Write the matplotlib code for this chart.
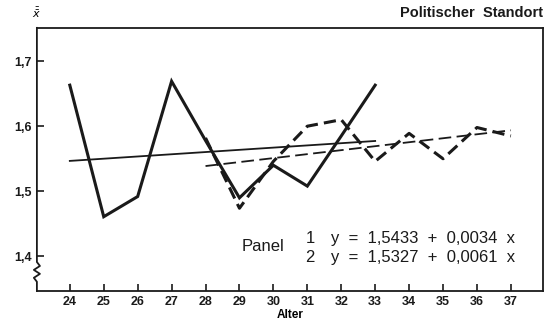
import matplotlib.pyplot as plt
import numpy as np

plt.rcParams['font.family'] = ['Liberation Sans', 'DejaVu Sans']

# panel 1 (solid), ages 24-33
age1 = [24, 25, 26, 27, 28, 29, 30, 31, 32, 33]
mean1 = [1.663, 1.461, 1.492, 1.669, 1.578, 1.490, 1.540, 1.508, 1.585, 1.663]
# panel 2 (dashed), ages 28-37
age2 = [28, 29, 30, 31, 32, 33, 34, 35, 36, 37]
mean2 = [1.582, 1.474, 1.546, 1.600, 1.610, 1.546, 1.589, 1.550, 1.598, 1.585]

# regression lines, x = 1..10 within each panel
a1, b1 = 1.5433, 0.0034
a2, b2 = 1.5327, 0.0061
xi = np.arange(1, 11)

fig = plt.figure(figsize=(5.59, 3.24), dpi=100)
ax = fig.add_axes([0.066, 0.102, 0.905, 0.812])

ax.plot(age1, mean1, color='#1a1a1a', lw=2.2, solid_joinstyle='miter')
ax.plot(age2, mean2, color='#1a1a1a', lw=2.2, dashes=(4, 2))
ax.plot(age1, a1 + b1 * xi, color='#1a1a1a', lw=1.3)
ax.plot(age2, a2 + b2 * xi, color='#1a1a1a', lw=1.3, dashes=(7, 3))

ax.set_xlim(23.03, 37.94)
ax.set_ylim(1.347, 1.751)
ax.set_xticks(range(24, 38))
ax.set_yticks([1.4, 1.5, 1.6, 1.7])
ax.set_yticklabels(['1,4', '1,5', '1,6', '1,7'])
ax.tick_params(direction='in', length=5, width=1.2, labelsize=9, colors='#1a1a1a')
for lab in ax.get_xticklabels() + ax.get_yticklabels():
    lab.set_fontweight('bold')
ax.set_xlabel('Alter', fontsize=8.5, fontweight='bold', labelpad=1)

for s in ['top', 'right', 'bottom']:
    ax.spines[s].set_linewidth(1.3)
    ax.spines[s].set_color('#1a1a1a')
ax.spines['left'].set_visible(False)
# left axis with break squiggle near the bottom
dx = 0.006
ax.plot([0, 0, dx, -dx, dx, -dx, 0, 0],
        [1, 0.11, 0.095, 0.08, 0.065, 0.05, 0.035, 0],
        transform=ax.transAxes, clip_on=False, color='#1a1a1a', lw=1.3)

ax.text(0, 1.03, r'$\bar{\bar{x}}$', transform=ax.transAxes, ha='center',
        va='bottom', fontsize=8, fontweight='bold')
ax.text(1, 1.03, 'Politischer  Standort', transform=ax.transAxes, ha='right',
        va='bottom', fontsize=10.5, fontweight='bold', color='#1a1a1a')

ax.text(29.07, 1.415, 'Panel', fontsize=12, va='center', color='#1a1a1a')
ax.text(30.95, 1.428, '1', fontsize=12, va='center', color='#1a1a1a')
ax.text(30.95, 1.398, '2', fontsize=12, va='center', color='#1a1a1a')
ax.text(31.7, 1.428, 'y  =  1,5433  +  0,0034  x', fontsize=12, va='center', color='#1a1a1a')
ax.text(31.7, 1.398, 'y  =  1,5327  +  0,0061  x', fontsize=12, va='center', color='#1a1a1a')

fig.savefig('out.png', dpi=100)
